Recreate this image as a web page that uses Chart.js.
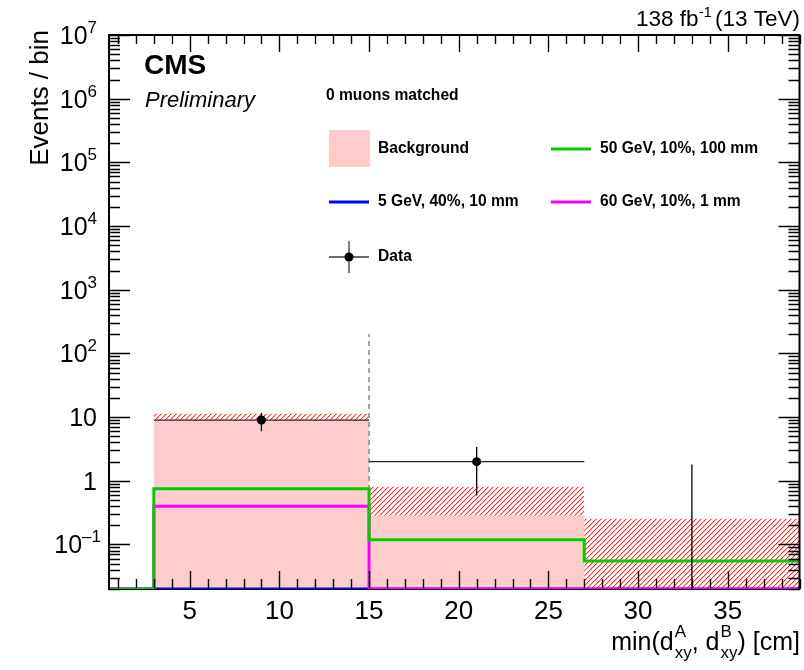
<!DOCTYPE html>
<html><head><meta charset="utf-8">
<script src="https://cdn.jsdelivr.net/npm/chart.js@4.4.1/dist/chart.umd.min.js"></script>
<style>html,body{margin:0;padding:0;background:#fff}#wrap{width:804px;height:670px}</style>
</head><body><div id="wrap"><canvas id="c" width="804" height="670"></canvas></div>
<script>
// ---------------- data ----------------
const BIN_EDGES = [0.5, 3, 15, 27, 39];
const BKG      = [0, 9.1, 0.285, 0];
const BKG_UP   = [0, 11.3, 0.81, 0.253];
const BKG_DN   = [0, 9.1, 0.285, 0];
const SIG_5GEV_40_10MM   = [0, 0, 0, 0];
const SIG_50GEV_10_100MM = [0, 0.75, 0.119, 0.055];
const SIG_60GEV_10_1MM   = [0, 0.40, 0, 0];
const DATA_X    = [9, 21, 33];
const DATA_XERR = [6, 6, 6];
const DATA_Y    = [9, 2, 0];
const DATA_YLO  = [6.0, 0.59, 0];
const DATA_YHI  = [11.7, 3.4, 1.8];
const CUT_X = 15, CUT_TOP = 200;
const X_MIN = 0.5, X_MAX = 39, Y_MIN = 0.02, Y_MAX = 1e7;
const X_TICKS = [5, 10, 15, 20, 25, 30, 35];
const Y_TICK_EXP = [-1, 0, 1, 2, 3, 4, 5, 6, 7];

const FONT = '"Liberation Sans", Arial, Helvetica, sans-serif';
const C_PINK = 'rgb(255,204,204)', C_GREEN = 'rgb(0,204,0)', C_BLUE = 'rgb(0,0,255)', C_MAG = 'rgb(255,0,255)';
const C_HATCH = 'rgb(255,40,40)';

const floorV = v => (v > 0 ? v : Y_MIN);
function stepPts(vals) {
  const p = vals.map((v, i) => ({x: BIN_EDGES[i], y: floorV(v)}));
  p.push({x: BIN_EDGES[BIN_EDGES.length - 1], y: floorV(vals[vals.length - 1])});
  return p;
}
function bkgPts() {
  const p = [];
  BKG.forEach((v, i) => { if (v > 0 || p.length) p.push({x: BIN_EDGES[i], y: floorV(v)}); });
  p.push({x: BIN_EDGES[BIN_EDGES.length - 1], y: floorV(BKG[BKG.length - 1])});
  return p;
}

const canvasEl = document.getElementById('c');
const mainCtx = canvasEl.getContext('2d');
function makeHatch() {
  const n = 5;
  const c = document.createElement('canvas'); c.width = n; c.height = n;
  const g = c.getContext('2d');
  g.clearRect(0, 0, n, n);
  g.fillStyle = C_HATCH;
  for (let i = 0; i < n; i++) g.fillRect(i, n - 1 - i, 1, 1);
  g.fillStyle = 'rgba(255,40,40,0.35)';
  for (let i = 0; i < n; i++) g.fillRect((i + 1) % n, n - 1 - i, 1, 1);
  return mainCtx.createPattern(c, 'repeat');
}
const HATCH = makeHatch();

const datasets = [];
datasets.push({label: 'Background', data: bkgPts(), stepped: 'before', fill: 'start',
  backgroundColor: C_PINK, borderColor: 'rgba(0,0,0,0)', borderWidth: 0, pointRadius: 0, order: 20});
BKG_UP.forEach((u, i) => {
  if (!(u > 0)) return;
  datasets.push({label: 'band' + i, data: [{x: BIN_EDGES[i], y: u}, {x: BIN_EDGES[i + 1], y: u}],
    fill: {value: floorV(BKG_DN[i]), above: HATCH, below: HATCH}, backgroundColor: HATCH, borderColor: 'rgba(0,0,0,0)',
    borderWidth: 0, pointRadius: 0, order: 19});
});
datasets.push({label: 'cut', data: [{x: CUT_X, y: Y_MIN}, {x: CUT_X, y: CUT_TOP}], borderColor: 'rgb(160,160,160)',
  borderWidth: 2, borderDash: [5, 4], pointRadius: 0, fill: false, order: 12});
datasets.push({label: '5 GeV, 40%, 10 mm', data: stepPts(SIG_5GEV_40_10MM), stepped: 'before', borderColor: C_BLUE,
  borderWidth: 3, pointRadius: 0, fill: false, order: 6});
datasets.push({label: '60 GeV, 10%, 1 mm', data: stepPts(SIG_60GEV_10_1MM), stepped: 'before', borderColor: C_MAG,
  borderWidth: 3, pointRadius: 0, fill: false, order: 5});
datasets.push({label: '50 GeV, 10%, 100 mm', data: stepPts(SIG_50GEV_10_100MM), stepped: 'before', borderColor: C_GREEN,
  borderWidth: 3, pointRadius: 0, fill: false, order: 4});
const DATA_INDEX = datasets.length;
datasets.push({label: 'Data', type: 'scatter', data: DATA_X.map((x, i) => ({x, y: DATA_Y[i]})),
  pointRadius: 4.5, pointBackgroundColor: '#000', pointBorderColor: '#000', pointBorderWidth: 0, showLine: false, order: 1});

function drawSup(ctx, parts, xRight, baseY) {
  let w = 0;
  parts.forEach(p => { ctx.font = p.size + 'px ' + FONT; p.w = ctx.measureText(p.t).width; w += p.w + (p.gap || 0); });
  let x = xRight - w;
  ctx.textAlign = 'left'; ctx.textBaseline = 'alphabetic';
  parts.forEach(p => { ctx.font = p.size + 'px ' + FONT; ctx.fillText(p.t, x, baseY + (p.dy || 0)); x += p.w + (p.gap || 0); });
}

const errorBars = {
  id: 'errorBars',
  beforeDatasetDraw(chart, args) {
    if (args.index !== DATA_INDEX) return;
    const {ctx, chartArea: a} = chart; const xs = chart.scales.x, ys = chart.scales.y;
    ctx.save();
    ctx.beginPath(); ctx.rect(a.left, a.top, a.right - a.left, a.bottom - a.top + 1); ctx.clip();
    DATA_X.forEach((x, i) => {
      const px = xs.getPixelForValue(x);
      const lo = DATA_YLO[i] > 0 ? ys.getPixelForValue(DATA_YLO[i]) : a.bottom;
      const hi = ys.getPixelForValue(DATA_YHI[i]);
      ctx.strokeStyle = '#000'; ctx.lineWidth = 1.3;
      ctx.beginPath(); ctx.moveTo(px, lo); ctx.lineTo(px, hi); ctx.stroke();
      if (DATA_Y[i] > 0) {
        const py = ys.getPixelForValue(DATA_Y[i]);
        ctx.strokeStyle = 'rgb(40,40,40)'; ctx.lineWidth = 1.2;
        ctx.beginPath(); ctx.moveTo(xs.getPixelForValue(x - DATA_XERR[i]), py); ctx.lineTo(xs.getPixelForValue(x + DATA_XERR[i]), py); ctx.stroke();
      }
    });
    ctx.restore();
  }
};

const frameBottom = {
  id: 'frameBottom',
  beforeDatasetsDraw(chart) {
    const {ctx, chartArea: a} = chart;
    ctx.save(); ctx.strokeStyle = '#000'; ctx.lineWidth = 2;
    ctx.beginPath(); ctx.moveTo(a.left - 1, a.bottom); ctx.lineTo(a.right + 1, a.bottom); ctx.stroke();
    ctx.restore();
  }
};

const frameAndText = {
  id: 'frameAndText',
  afterDraw(chart) {
    const {ctx, chartArea: a} = chart; const xs = chart.scales.x, ys = chart.scales.y;
    ctx.save();
    ctx.strokeStyle = '#000'; ctx.lineWidth = 1.4;
    ctx.beginPath();
    for (let e = -2; e <= 7; e++) {
      for (let m = 1; m <= 9; m++) {
        const v = m * Math.pow(10, e);
        if (v < Y_MIN || v > Y_MAX) continue;
        const py = Math.round(ys.getPixelForValue(v)) + 0.5;
        const len = m === 1 ? 21 : 11;
        ctx.moveTo(a.left, py); ctx.lineTo(a.left + len, py);
        ctx.moveTo(a.right, py); ctx.lineTo(a.right - len, py);
      }
    }
    for (let x = Math.ceil(X_MIN); x <= X_MAX; x++) {
      const px = Math.round(xs.getPixelForValue(x)) + 0.5;
      const len = x % 5 === 0 ? 17 : 9;
      ctx.moveTo(px, a.bottom - 1); ctx.lineTo(px, a.bottom - 1 - len);
      ctx.moveTo(px, a.top); ctx.lineTo(px, a.top + len);
    }
    ctx.stroke();
    ctx.lineWidth = 2;
    ctx.beginPath();
    ctx.moveTo(a.left, a.bottom); ctx.lineTo(a.left, a.top); ctx.lineTo(a.right, a.top); ctx.lineTo(a.right, a.bottom);
    ctx.stroke();

    ctx.fillStyle = '#000';
    Y_TICK_EXP.forEach(e => {
      const py = ys.getPixelForValue(Math.pow(10, e));
      if (e === 0) drawSup(ctx, [{t: '1', size: 25}], 97, py + 9);
      else if (e === 1) drawSup(ctx, [{t: '10', size: 25}], 97, py + 9);
      else if (e < 0) drawSup(ctx, [{t: '10', size: 25}, {t: '\u2013' + (-e), size: 17, dy: -11}], 101, py + 9);
      else drawSup(ctx, [{t: '10', size: 25}, {t: String(e), size: 17, dy: -11}], 97, py + 9);
    });
    ctx.font = '26px ' + FONT; ctx.textAlign = 'center'; ctx.textBaseline = 'alphabetic';
    X_TICKS.forEach(x => ctx.fillText(String(x), xs.getPixelForValue(x), 619));

    {
      const base = 650, big = 25, small = 17;
      const wBig = t => { ctx.font = big + 'px ' + FONT; return ctx.measureText(t).width; };
      const wSm = t => { ctx.font = small + 'px ' + FONT; return ctx.measureText(t).width; };
      const items = [['b', 'min(d'], ['ss', 'A', 'xy'], ['b', ', d'], ['ss', 'B', 'xy'], ['b', ') [cm]']];
      let total = 0;
      items.forEach(it => { it.w = it[0] === 'b' ? wBig(it[1]) : Math.max(wSm(it[1]), wSm(it[2])) + 1; total += it.w; });
      let x = 800 - total;
      ctx.textAlign = 'left';
      items.forEach(it => {
        if (it[0] === 'b') { ctx.font = big + 'px ' + FONT; ctx.fillText(it[1], x, base); }
        else { ctx.font = small + 'px ' + FONT; ctx.fillText(it[1], x + 1, base - 13); ctx.fillText(it[2], x + 1, base + 8); }
        x += it.w;
      });
    }

    ctx.save();
    ctx.translate(48, 30); ctx.rotate(-Math.PI / 2);
    ctx.font = '26px ' + FONT; ctx.textAlign = 'right'; ctx.textBaseline = 'alphabetic';
    ctx.fillText('Events / bin', 0, 0);
    ctx.restore();

    drawSup(ctx, [{t: '138 fb', size: 22.5}, {t: '-1', size: 15, dy: -9, gap: 3}, {t: '(13 TeV)', size: 22.5}], 800, 26);

    ctx.textAlign = 'left'; ctx.textBaseline = 'alphabetic';
    ctx.font = 'bold 28px ' + FONT; ctx.fillText('CMS', 144, 74);
    ctx.font = 'italic 22px ' + FONT; ctx.fillText('Preliminary', 145, 107);

    ctx.font = 'bold 15.6px ' + FONT; ctx.textBaseline = 'middle';
    ctx.fillText('0 muons matched', 326, 96);
    ctx.fillStyle = C_PINK; ctx.fillRect(329, 130, 41, 37);
    ctx.fillStyle = '#000';
    ctx.fillText('Background', 378, 149);
    const leg = (x, y, col, txt) => {
      ctx.strokeStyle = col; ctx.lineWidth = 3; ctx.beginPath(); ctx.moveTo(x, y); ctx.lineTo(x + 40, y); ctx.stroke();
      ctx.fillStyle = '#000'; ctx.fillText(txt, x + 49, y);
    };
    leg(551, 149, C_GREEN, '50 GeV, 10%, 100 mm');
    leg(329, 202, C_BLUE, '5 GeV, 40%, 10 mm');
    leg(551, 202, C_MAG, '60 GeV, 10%, 1 mm');
    ctx.strokeStyle = 'rgb(60,60,60)'; ctx.lineWidth = 1.3;
    ctx.beginPath(); ctx.moveTo(329, 257); ctx.lineTo(369, 257); ctx.moveTo(349, 241); ctx.lineTo(349, 273); ctx.stroke();
    ctx.fillStyle = '#000'; ctx.beginPath(); ctx.arc(349, 257, 4.5, 0, Math.PI * 2); ctx.fill();
    ctx.fillText('Data', 378, 257);
    ctx.restore();
  }
};

new Chart(mainCtx, {
  type: 'line',
  data: {datasets},
  options: {
    responsive: false, animation: false, devicePixelRatio: 1,
    layout: {padding: {left: 109, top: 35, right: 4, bottom: 81}},
    plugins: {legend: {display: false}, tooltip: {enabled: false}, colors: {enabled: false}},
    scales: {
      x: {type: 'linear', min: X_MIN, max: X_MAX, display: false},
      y: {type: 'logarithmic', min: Y_MIN, max: Y_MAX, display: false}
    },
    elements: {line: {tension: 0}}
  },
  plugins: [frameBottom, errorBars, frameAndText]
});
</script></body></html>
